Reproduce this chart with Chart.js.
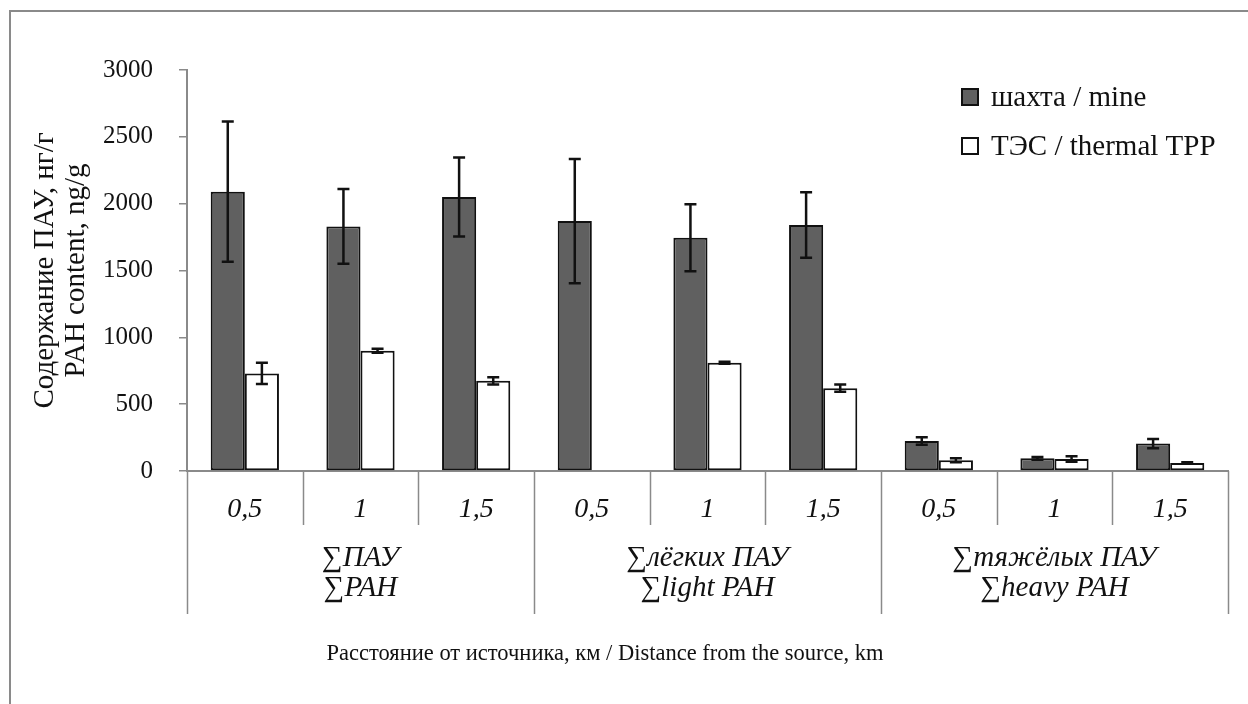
<!DOCTYPE html>
<html>
<head>
<meta charset="utf-8">
<script src="https://cdn.jsdelivr.net/npm/chart.js@4/dist/chart.umd.min.js"></script>
<style>
  body { margin: 0; background: #fff; }
  canvas { display: block; }
</style>
</head>
<body>
<canvas id="grafico" width="1248" height="704"></canvas>
<script>
"use strict";
//Dados
const distancias = ["0,5", "1", "1,5", "0,5", "1", "1,5", "0,5", "1", "1,5"];
const grupos = [
  ["∑ПАУ", "∑PAH"],
  ["∑лёгких ПАУ", "∑light PAH"],
  ["∑тяжёлых ПАУ", "∑heavy PAH"],
];
const seriesNomes = ["шахта / mine", "ТЭС / thermal TPP"];
const valoresMina = [2090, 1830, 2050, 1870, 1745, 1840, 225, 95, 205];
const errosMina = [525, 280, 295, 465, 250, 245, 28, 10, 35];
const valoresTES = [730, 900, 675, null, 810, 620, 80, 90, 60];
const errosTES = [80, 15, 27, null, 8, 28, 15, 20, 5];
const ticksY = [0, 500, 1000, 1500, 2000, 2500, 3000];

const serif = "'Liberation Serif', 'DejaVu Serif', serif";
const cinza = "#8a8a8a";

//Barras de erro
const barrasErro = {
  id: "barrasErro",
  afterDatasetsDraw(chart) {
    const ctx = chart.ctx;
    const y = chart.scales.y;
    const erros = [errosMina, errosTES];
    ctx.save();
    ctx.strokeStyle = "#111";
    ctx.lineWidth = 2.5;
    chart.data.datasets.forEach((ds, d) => {
      chart.getDatasetMeta(d).data.forEach((bar, i) => {
        const v = ds.data[i];
        const e = erros[d][i];
        if (v == null || e == null) return;
        const top = y.getPixelForValue(v + e);
        const bot = y.getPixelForValue(v - e);
        ctx.beginPath();
        ctx.moveTo(bar.x, top); ctx.lineTo(bar.x, bot);
        ctx.moveTo(bar.x - 6, top); ctx.lineTo(bar.x + 6, top);
        ctx.moveTo(bar.x - 6, bot); ctx.lineTo(bar.x + 6, bot);
        ctx.stroke();
      });
    });
    ctx.restore();
  }
};

//Eixo X em dois niveis, legenda, titulos e moldura
const extras = {
  id: "extras",
  afterDraw(chart) {
    const ctx = chart.ctx;
    const x = chart.scales.x;
    const area = chart.chartArea;
    const passo = (area.right - area.left) / distancias.length;
    const base = area.bottom;
    ctx.save();

    //moldura
    ctx.strokeStyle = cinza;
    ctx.lineWidth = 2;
    ctx.beginPath();
    ctx.moveTo(10, 704); ctx.lineTo(10, 11); ctx.lineTo(1248, 11);
    ctx.stroke();

    //separadores
    ctx.lineWidth = 1.5;
    ctx.beginPath();
    for (let i = 0; i <= distancias.length; i++) {
      const px = Math.round(x.getPixelForValue(0) - passo / 2 + i * passo) + 0.5;
      const fim = i % 3 === 0 ? base + 143 : base + 54;
      ctx.moveTo(px, base); ctx.lineTo(px, fim);
    }
    ctx.stroke();

    //rotulos
    ctx.fillStyle = "#111";
    ctx.textAlign = "center";
    ctx.textBaseline = "middle";
    ctx.font = "italic 28px " + serif;
    distancias.forEach((d, i) => {
      ctx.fillText(d, x.getPixelForValue(i), base + 39);
    });
    ctx.font = "italic 29px " + serif;
    grupos.forEach((g, k) => {
      const cx = x.getPixelForValue(k * 3 + 1);
      ctx.fillText(g[0], cx, base + 87);
      ctx.fillText(g[1], cx, base + 117);
    });

    //titulo eixo x
    ctx.font = "22.5px " + serif;
    ctx.fillText("Расстояние от источника, км / Distance from the source, km", 605, 654);

    //titulo eixo y
    ctx.save();
    ctx.translate(45, (area.top + area.bottom) / 2);
    ctx.rotate(-Math.PI / 2);
    ctx.font = "29px " + serif;
    ctx.fillText("Содержание ПАУ, нг/г", 0, 0);
    ctx.fillText("PAH content, ng/g", 0, 31);
    ctx.restore();

    //legenda
    ctx.textAlign = "left";
    ctx.font = "29px " + serif;
    chart.data.datasets.forEach((ds, d) => {
      const ly = 97 + d * 49;
      ctx.fillStyle = ds.backgroundColor;
      ctx.fillRect(962, ly - 8, 16, 16);
      ctx.strokeStyle = "#111";
      ctx.lineWidth = 2;
      ctx.strokeRect(962, ly - 8, 16, 16);
      ctx.fillStyle = "#111";
      ctx.fillText(ds.label, 991, ly + 1);
    });
    ctx.restore();
  }
};

new Chart(document.getElementById("grafico"), {
  type: "bar",
  data: {
    labels: distancias,
    datasets: [
      {
        label: seriesNomes[0],
        data: valoresMina,
        backgroundColor: "#606060",
        borderColor: "#111",
        borderWidth: 2,
        borderSkipped: false,
      },
      {
        label: seriesNomes[1],
        data: valoresTES,
        backgroundColor: "#ffffff",
        borderColor: "#111",
        borderWidth: 2,
        borderSkipped: false,
      },
    ],
  },
  options: {
    responsive: false,
    animation: false,
    layout: { padding: { top: 70, right: 20, bottom: 233, left: 0 } },
    datasets: { bar: { categoryPercentage: 0.59, barPercentage: 1 } },
    plugins: { legend: { display: false }, tooltip: { enabled: false } },
    scales: {
      x: {
        ticks: { display: false },
        grid: { display: false },
        border: { color: cinza, width: 2 },
        afterFit: (s) => { s.height = 0; },
      },
      y: {
        min: 0,
        max: 3000,
        afterBuildTicks: (s) => { s.ticks = ticksY.map((v) => ({ value: v })); },
        afterFit: (s) => { s.width = 187; },
        ticks: {
          color: "#111",
          padding: 26,
          font: { family: serif, size: 25 },
          callback: (v) => String(v),
        },
        grid: { drawOnChartArea: false, tickLength: 8, color: cinza, lineWidth: 1.5 },
        border: { color: cinza, width: 2 },
      },
    },
  },
  plugins: [barrasErro, extras],
});
</script>
</body>
</html>
